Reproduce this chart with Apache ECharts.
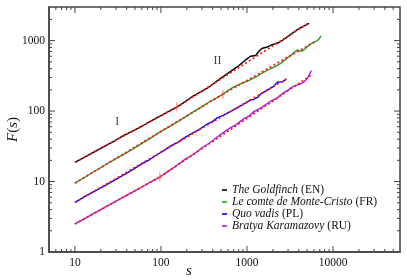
<!DOCTYPE html>
<html><head><meta charset="utf-8">
<script src="https://cdn.jsdelivr.net/npm/echarts@6/dist/echarts.min.js"></script>
<style>html,body{margin:0;padding:0;background:#fff}#c{width:407px;height:280px}</style>
</head><body><div id="c"></div>
<script>
// ---- data ----
const seriesTitles = ['The Goldfinch', 'Le comte de Monte-Cristo', 'Quo vadis', 'Bratya Karamazovy'];
const seriesLangs = ['EN', 'FR', 'PL', 'RU'];
const seriesColors = ['#000000', '#22a022', '#0000ff', '#a020f0'];

const goldfinchS = [10,13,17,22,29,37,48,62,80,100,125,153,190,230,287,350,410,480,587,703,800,900,1000,1100,1260,1400,1507,1726,1972,2357,2700,3200,3864,4500,5270];
const goldfinchF = [18.7,22.2,26.6,31.5,37.9,45.2,52.9,62.4,74.6,86,99.5,114,135,160,186,213,246,284,338,393,439,498,551,600,615,723,779,813,877,941,1046,1218,1439,1588,1760];

const monteS = [10,13,17,22,29,37,48,62,80,100,130,170,220,290,380,450,522,600,700,771,900,1000,1100,1318,1500,1884,2100,2465,2800,3226,3500,3864,4100,4420,5000,5520,6310,6800,7230];
const monteF = [9.5,11.5,14.0,16.9,20.7,24.3,29.3,35.6,43,51.5,61.5,75,91.8,113,139,155,173,195,220,232,253,264,279,313,347,402,425,475,541,616,672,740,713,713,811,896,973,1036,1167];

const quoS = [10,13,17,22,29,37,48,62,75,90,110,135,160,190,230,280,344,400,450,520,646,800,950,1102,1200,1260,1350,1442,1700,2060,2250,2450,2600,2820];
const quoF = [5.05,6.09,7.3,8.68,10.5,12.4,15.0,18.2,20.7,24.0,27.9,32.9,36.5,42.4,48.2,54.9,65.5,71.5,80.1,86.3,98.7,115,129,144,146,140,159,175,197,226,257,260,261,282];

const bratyaS = [10,13,17,22,29,37,48,62,80,97,120,150,190,240,300,370,450,550,646,750,920,1050,1205,1500,1884,2200,2700,3000,3375,3800,4200,4610,5050,5300,5600];
const bratyaF = [2.5,2.98,3.58,4.26,5.13,6.05,7.21,8.57,10.2,11.6,13.8,16.6,20.6,24.4,30.2,35.5,42.9,51.2,58.4,64.2,78.1,84.6,98.3,114,138,151,184,198,221,234,244,260,292,329,377];

// fitted power-law segments (regimes I and II): [s0, F0, s1, F1]
const fitSegments = [
  [10, 18.7, 153, 114], [153, 114, 5270, 1796],
  [10, 9.5, 522, 173], [522, 173, 6280, 980],
  [10, 5.05, 2900, 288],
  [10, 2.5, 97, 11.6], [97, 11.6, 5500, 320]
];
// crossover markers
const crossS = [153, 522, 97];
const crossF = [114, 173, 11.6];
// regime labels
const regimeText = ['I', 'II'];
const regimeS = [31, 454];
const regimeF = [69.7, 508];

// axis ticks
const xMajor = [10, 100, 1000, 10000];
const yMajor = [1, 10, 100, 1000];
const xMin = 5, xMax = 60000, yMin = 1, yMax = 3000;
function minorTicks(lo, hi) {
  const out = [];
  for (let d = 1; d <= 100000; d *= 10)
    for (let m = 2; m <= 9; m++) { const v = m * d; if (v > lo && v < hi) out.push(v); }
  return out;
}
const xMinor = minorTicks(xMin, xMax);
const yMinor = minorTicks(yMin, yMax);

// ---- chart ----
const FONT = 'Liberation Serif';
const LINE = '#444';
const chart = echarts.init(document.getElementById('c'), null, {renderer: 'canvas'});

const allS = [goldfinchS, monteS, quoS, bratyaS];
const allF = [goldfinchF, monteF, quoF, bratyaF];
const series = [];
allS.forEach((sArr, k) => {
  series.push({
    name: seriesTitles[k], type: 'line', showSymbol: false, symbol: 'none',
    data: sArr.map((s, i) => [s, allF[k][i]]),
    lineStyle: {color: seriesColors[k], width: 1.4},
    itemStyle: {color: seriesColors[k]}, z: 2
  });
});
fitSegments.forEach((seg) => {
  series.push({
    type: 'line', showSymbol: false, symbol: 'none', silent: true,
    data: [[seg[0], seg[1]], [seg[2], seg[3]]],
    lineStyle: {color: '#ff1a1a', width: 1.8, type: [2, 2.5]}, z: 3
  });
});
series.push({
  type: 'scatter', symbol: 'rect', symbolSize: [1.5, 9], silent: true,
  data: crossS.map((s, i) => [s, crossF[i]]),
  itemStyle: {color: 'rgba(255,90,90,0.7)'}, z: 4
});
series.push({
  type: 'scatter', symbolSize: 0, silent: true,
  data: regimeS.map((s, i) => ({value: [s, regimeF[i]], name: regimeText[i]})),
  label: {show: true, position: 'inside', formatter: p => p.name, fontFamily: FONT, fontSize: 12, color: '#111'},
  z: 5
});

chart.setOption({
  animation: false,
  backgroundColor: '#fff',
  textStyle: {fontFamily: FONT},
  grid: {left: 49, right: 7, top: 7, bottom: 28, containLabel: false, outerBoundsMode: 'none',
         show: true, borderColor: LINE, borderWidth: 1.5, backgroundColor: 'transparent'},
  xAxis: {
    type: 'log', min: xMin, max: xMax,
    axisLine: {show: true, onZero: false, lineStyle: {color: LINE, width: 1.5}},
    axisTick: {show: false}, minorTick: {show: false}, splitLine: {show: false},
    axisLabel: {show: true, customValues: xMajor, formatter: v => String(v), color: '#111', fontFamily: FONT, fontSize: 11.5, margin: 5},
    name: 's', nameLocation: 'middle', nameGap: 12, nameMoveOverlap: false,
    nameTextStyle: {fontFamily: FONT, fontStyle: 'italic', fontSize: 15, color: '#111', padding: [0, 71, 0, 0]}
  },
  yAxis: {
    type: 'log', min: yMin, max: yMax,
    axisLine: {show: true, onZero: false, lineStyle: {color: LINE, width: 1.5}},
    axisTick: {show: false}, minorTick: {show: false}, splitLine: {show: false},
    axisLabel: {show: true, customValues: yMajor, formatter: v => String(v), color: '#111', fontFamily: FONT, fontSize: 11.5, margin: 4},
    name: '{i|F}{n|(}{i|s}{n|)}', nameLocation: 'middle', nameGap: 28, nameRotate: 90, nameMoveOverlap: false,
    nameTextStyle: {rich: {
      i: {fontFamily: FONT, fontStyle: 'italic', fontSize: 15, color: '#111'},
      n: {fontFamily: FONT, fontSize: 15, color: '#111'}
    }}
  },
  legend: {
    orient: 'vertical', left: 217, top: 179, itemGap: 0,
    icon: 'rect', itemWidth: 5, itemHeight: 1.6,
    data: seriesTitles,
    formatter: name => {
      const k = seriesTitles.indexOf(name);
      return '{i|' + name + '} {n|(' + seriesLangs[k] + ')}';
    },
    textStyle: {
      rich: {
        i: {fontFamily: FONT, fontStyle: 'italic', fontSize: 11.5, color: '#111', lineHeight: 14},
        n: {fontFamily: FONT, fontSize: 11.5, color: '#111', lineHeight: 14}
      }
    }
  },
  series: series
});

// inward ticks on all four sides, placed through the axes' own scales
const tickEls = [];
const tickStyle = {stroke: LINE, lineWidth: 1};
function addX(v, len) {
  const b = chart.convertToPixel({gridIndex: 0}, [v, yMin]);
  const t = chart.convertToPixel({gridIndex: 0}, [v, yMax]);
  tickEls.push({type: 'line', silent: true, z: 10, shape: {x1: b[0], y1: b[1], x2: b[0], y2: b[1] - len}, style: tickStyle});
  tickEls.push({type: 'line', silent: true, z: 10, shape: {x1: t[0], y1: t[1], x2: t[0], y2: t[1] + len}, style: tickStyle});
}
function addY(v, len) {
  const l = chart.convertToPixel({gridIndex: 0}, [xMin, v]);
  const r = chart.convertToPixel({gridIndex: 0}, [xMax, v]);
  tickEls.push({type: 'line', silent: true, z: 10, shape: {x1: l[0], y1: l[1], x2: l[0] + len, y2: l[1]}, style: tickStyle});
  tickEls.push({type: 'line', silent: true, z: 10, shape: {x1: r[0], y1: r[1], x2: r[0] - len, y2: r[1]}, style: tickStyle});
}
xMajor.forEach(v => addX(v, 6));
xMinor.forEach(v => addX(v, 3));
yMajor.filter(v => v > yMin).forEach(v => addY(v, 6));
yMinor.forEach(v => addY(v, 3));
chart.setOption({graphic: {elements: tickEls}});
</script></body></html>
